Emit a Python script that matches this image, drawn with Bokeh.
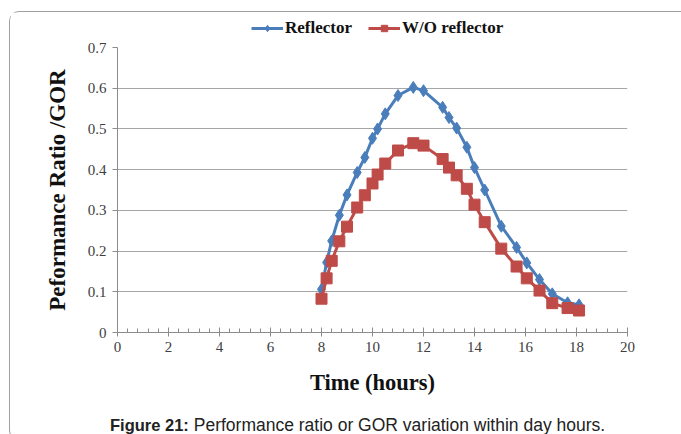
from bokeh.plotting import figure
from bokeh.models import (Range1d, FixedTicker, Legend, LegendItem, Div,
                          ColumnDataSource)
from bokeh.layouts import column
from bokeh.embed import file_html
from bokeh.resources import INLINE

# Time of day (hours) and performance ratio / GOR for both configurations
hours = [8.0, 8.2, 8.4, 8.7, 9.0, 9.4, 9.7, 10.0, 10.2, 10.5, 11.0, 11.6, 12.0,
         12.75, 13.0, 13.3, 13.7, 14.0, 14.4, 15.05, 15.65, 16.05, 16.55, 17.05,
         17.65, 18.1]
reflector = [0.106, 0.172, 0.225, 0.288, 0.338, 0.393, 0.430, 0.477, 0.500,
             0.537, 0.582, 0.602, 0.594, 0.553, 0.528, 0.502, 0.455, 0.405,
             0.350, 0.261, 0.209, 0.171, 0.130, 0.095, 0.073, 0.068]
without_reflector = [0.083, 0.133, 0.176, 0.224, 0.260, 0.307, 0.337, 0.366,
                     0.388, 0.415, 0.447, 0.465, 0.459, 0.426, 0.405, 0.386,
                     0.353, 0.314, 0.271, 0.206, 0.162, 0.133, 0.103, 0.072,
                     0.060, 0.054]

x_ticks = [0, 2, 4, 6, 8, 10, 12, 14, 16, 18, 20]
y_ticks = [0, 0.1, 0.2, 0.3, 0.4, 0.5, 0.6, 0.7]
y_labels = ["0", "0.1", "0.2", "0.3", "0.4", "0.5", "0.6", "0.7"]

BLUE = "#4A7EBB"
RED = "#BE4B48"
SERIF = "Liberation Serif"

src = ColumnDataSource(dict(h=hours, r=reflector, w=without_reflector))


def add_series(fig):
    """Draw both curves (line + markers) on a figure, return the renderers."""
    l1 = fig.line("h", "r", source=src, line_color=BLUE, line_width=3)
    m1 = fig.scatter("h", "r", source=src, marker="diamond", size=12,
                     fill_color=BLUE, line_color=BLUE)
    l2 = fig.line("h", "w", source=src, line_color=RED, line_width=3)
    m2 = fig.scatter("h", "w", source=src, marker="square", size=11,
                     fill_color=RED, line_color=RED)
    return l1, m1, l2, m2


# ---- main chart -----------------------------------------------------------
p = figure(width=670, height=362, output_backend="svg", toolbar_location=None,
           x_range=Range1d(0, 20), y_range=Range1d(0, 0.7),
           min_border_left=107, min_border_right=53,
           min_border_top=7, min_border_bottom=70)
p.outline_line_color = None
p.background_fill_color = "white"
p.border_fill_color = "white"

# x axis: majors every 2 h, five minor intervals between them
p.xaxis.ticker = FixedTicker(ticks=x_ticks,
                             minor_ticks=[i * 0.4 for i in range(51)])
p.xaxis.axis_line_color = "#8C8C8C"
p.xaxis.major_tick_line_color = "#8C8C8C"
p.xaxis.minor_tick_line_color = "#8C8C8C"
p.xaxis.major_tick_in = 5
p.xaxis.major_tick_out = 4
p.xaxis.minor_tick_in = 4
p.xaxis.minor_tick_out = 0
p.xaxis.major_label_text_font = SERIF
p.xaxis.major_label_text_font_size = "15px"
p.xaxis.major_label_text_color = "#404040"
p.xaxis.major_label_standoff = 5
p.xaxis.axis_label = "Time (hours)"
p.xaxis.axis_label_text_font = SERIF
p.xaxis.axis_label_text_font_size = "22.5px"
p.xaxis.axis_label_text_font_style = "bold"
p.xaxis.axis_label_text_color = "#111111"
p.xaxis.axis_label_standoff = 15

# y axis
p.yaxis.ticker = FixedTicker(ticks=y_ticks)
p.yaxis.major_label_overrides = {t: s for t, s in zip(y_ticks, y_labels)}
p.yaxis.axis_line_color = "#8C8C8C"
p.yaxis.major_tick_line_color = "#8C8C8C"
p.yaxis.major_tick_in = 0
p.yaxis.major_tick_out = 5
p.yaxis.minor_tick_line_color = None
p.yaxis.major_label_text_font = SERIF
p.yaxis.major_label_text_font_size = "15px"
p.yaxis.major_label_text_color = "#404040"
p.yaxis.major_label_standoff = 6
p.yaxis.axis_label = "Peformance Ratio /GOR"
p.yaxis.axis_label_text_font = SERIF
p.yaxis.axis_label_text_font_size = "23px"
p.yaxis.axis_label_text_font_style = "bold"
p.yaxis.axis_label_text_color = "#111111"
p.yaxis.axis_label_standoff = 15

p.xgrid.grid_line_color = None
p.ygrid.grid_line_color = "#A6A6A6"
p.ygrid.grid_line_width = 1.2

add_series(p)

# ---- legend strip above the chart ------------------------------------------
# same series drawn into a thin strip whose ranges keep the curves out of view,
# so only the legend entries show
lg = figure(width=670, height=28, output_backend="svg", toolbar_location=None,
            x_range=Range1d(0, 20), y_range=Range1d(5, 6),
            min_border=0, x_axis_location=None, y_axis_location=None)
lg.outline_line_color = None
lg.grid.visible = False
lg.border_fill_color = "white"
r1, s1, r2, s2 = add_series(lg)
legend = Legend(items=[LegendItem(label="Reflector", renderers=[r1, s1]),
                       LegendItem(label="W/O reflector", renderers=[r2, s2])],
                orientation="horizontal", location=(134, 2),
                label_text_font=SERIF, label_text_font_size="17px",
                label_text_font_style="bold", label_text_color="#111111",
                glyph_width=32, glyph_height=16, label_standoff=2,
                spacing=16, padding=2, margin=0,
                border_line_color=None, background_fill_alpha=0)
lg.add_layout(legend)

# ---- caption ---------------------------------------------------------------
caption = Div(
    width=670, height=27,
    text=('<div style="font-family:\'Liberation Sans\',Arial,sans-serif;'
          'color:#222;padding-left:95px;padding-top:10px;'
          'white-space:nowrap;line-height:16px;">'
          '<b style="font-size:16.5px;">Figure 21:</b>'
          '<span style="font-size:17.5px;"> Performance ratio or GOR '
          'variation within day hours.</span></div>'))

page = column(lg, p, caption, spacing=0,
              styles={"margin-left": "9px", "margin-top": "11px",
                      "border-left": "1px solid #A0A0A0",
                      "border-top": "1px solid #A0A0A0",
                      "border-bottom": "1px solid #A0A0A0",
                      "border-top-left-radius": "10px",
                      "border-bottom-left-radius": "10px",
                      "background": "white"})

open("out.html", "w").write(file_html(page, INLINE))
